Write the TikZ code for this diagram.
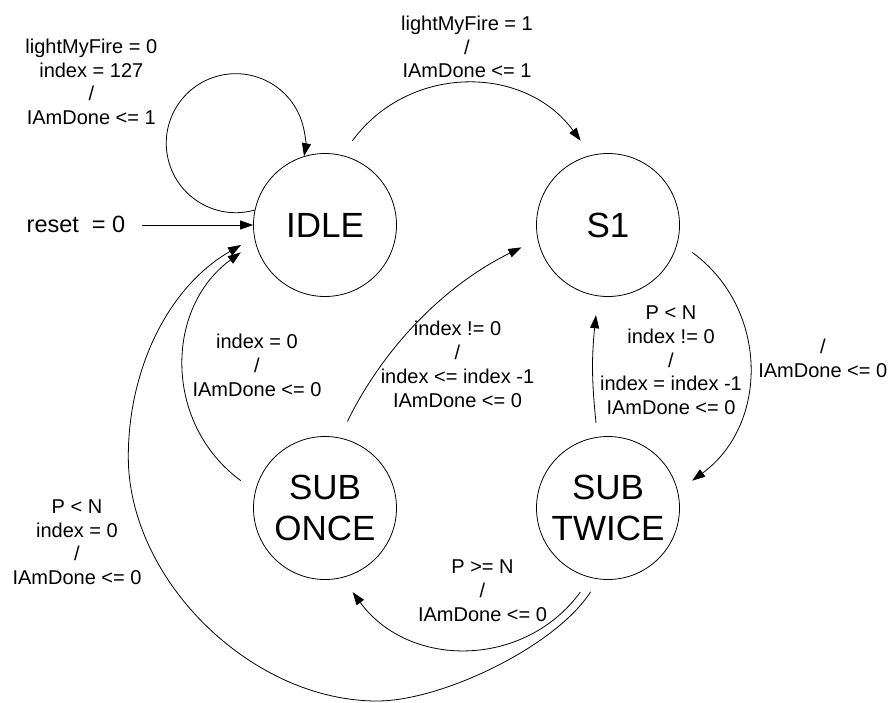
\documentclass[tikz,border=0pt]{standalone}
\usepackage{fontspec}
\setmainfont{Liberation Sans}
\usetikzlibrary{arrows.meta,calc}
\begin{document}
\begin{tikzpicture}[x=1pt,y=1pt,
  state/.style={draw,circle,line width=0.8pt,minimum size=143pt,inner sep=0pt,
    align=center,font=\fontsize{35}{41.6}\selectfont},
  lbl/.style={inner sep=0pt,align=center,anchor=south,font=\fontsize{20}{23.8}\selectfont},
  arr/.style={line width=0.8pt,-{Triangle[length=13pt,width=9pt]}},
  sidebend/.style={bend left=53.8,looseness=1.07}]
\useasboundingbox (0,0) rectangle (889,-702);

% states
\node[state] (idle) at (325,-225) {IDLE};
\node[state] (s1)   at (608,-225) {S1};
\node[state] (so)   at (325,-508) {SUB\\ONCE};
\node[state] (st)   at (608,-508) {SUB\\TWICE};

% reset entry
\node[inner sep=0pt,anchor=base,font=\fontsize{23.5}{28}\selectfont] (resetlbl) at (76,-232.7) {reset\ \ = 0};
\coordinate (rst) at (141.7,-225);
\draw[arr] (rst) -- (idle.west);

% self loop on IDLE
\draw[arr] (idle.168.7) arc[start angle=-74.2, delta angle=-296.6, radius=69.5];

% outer ring of transitions
\draw[arr] ($(idle)+(72:88.5)$)  to[sidebend] ($(s1)+(108:88.5)$);
\draw[arr] ($(s1)+(-18:88.5)$)   to[sidebend] ($(st)+(18:88.5)$);
\draw[arr] ($(st)+(251.8:88.5)$) to[sidebend] ($(so)+(288.2:88.5)$);
\draw[arr] ($(so)+(162:88.5)$)   to[sidebend] ($(idle)+(198:88.5)$);

% inner transitions back to S1
\draw[arr] ($(so)+(75.5:89.5)$) to[bend left=18.8,looseness=0.875] ($(s1)+(194.5:89.5)$);
\draw[arr] ($(st)+(98:86)$) to[bend left=6] ($(s1)+(262.4:91)$);

% long return from SUB TWICE to IDLE
\coordinate (bigbot)  at (377,-701);
\coordinate (bigleft) at (128.3,-456.7);
\draw[arr] ($(st)+(258.3:85.5)$)
  .. controls (555.7,-646.4) and (442,-701) .. (bigbot)
  .. controls (251.4,-701) and (128.3,-580.1) .. (bigleft)
  .. controls (128.3,-371) and (166.8,-287.9) .. ($(idle)+(193.4:86.3)$);

% transition labels
\node[lbl] (l0) at (91.3,-125)   {lightMyFire = 0\\index = 127\\/\\IAmDone <= 1};
\node[lbl] (l1) at (467,-78.3)   {lightMyFire = 1\\/\\IAmDone <= 1};
\node[lbl] (l2) at (822.8,-378)  {/\\IAmDone <= 0};
\node[lbl] (l3) at (671,-415)    {P < N\\index != 0\\/\\index = index -1\\IAmDone <= 0};
\node[lbl] (l4) at (457.5,-407.5){index != 0\\/\\index <= index -1\\IAmDone <= 0};
\node[lbl] (l5) at (257,-396.7)  {index = 0\\/\\IAmDone <= 0};
\node[lbl] (l6) at (77,-585)     {P < N\\index = 0\\/\\IAmDone <= 0};
\node[lbl] (l7) at (482.5,-621.7){P >= N\\/\\IAmDone <= 0};
\end{tikzpicture}
\end{document}
